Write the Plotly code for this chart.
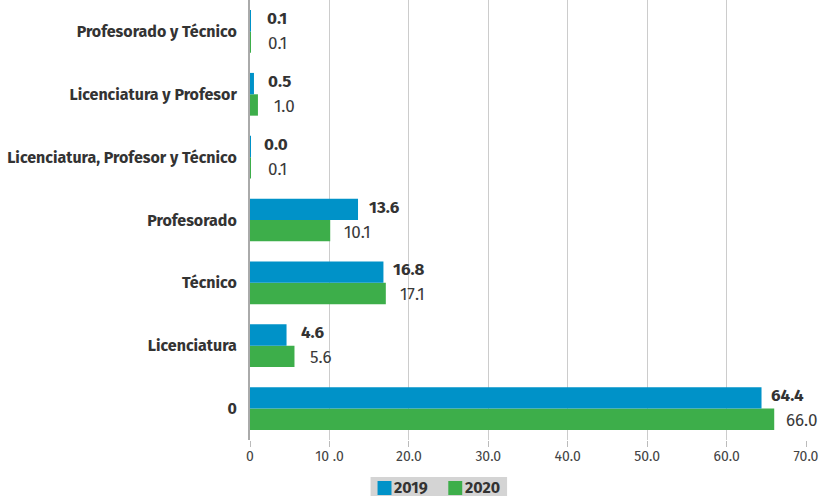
import plotly.graph_objects as go

categories = ["0", "Licenciatura", "Técnico", "Profesorado",
              "Licenciatura, Profesor y Técnico", "Licenciatura y Profesor",
              "Profesorado y Técnico"]
values_2019 = [64.4, 4.6, 16.8, 13.6, 0.04, 0.5, 0.1]
values_2020 = [66.0, 5.6, 17.1, 10.1, 0.1, 1.0, 0.1]
series_names = ["2019", "2020"]
tick_values = [0, 10, 20, 30, 40, 50, 60, 70]
tick_labels = ["0", "10 .0", "20.0", "30.0", "40.0", "50.0", "60.0", "70.0"]

BLUE = "#0092C8"
GREEN = "#3DAE4A"
FONT = "Fira Sans, Noto Sans, Open Sans, sans-serif"

L, R, T, B = 250, 11, 0, 56
W, H = 819, 496
PW, PH = W - L - R, H - T - B


def px_to_paper(px, py):
    return (px - L) / PW, (H - B - py) / PH


fig = go.Figure()
fig.add_trace(go.Bar(y=categories, x=values_2020, orientation="h", name=series_names[1],
                     marker=dict(color=GREEN, line=dict(width=0)), showlegend=False))
fig.add_trace(go.Bar(y=categories, x=values_2019, orientation="h", name=series_names[0],
                     marker=dict(color=BLUE, line=dict(width=0)), showlegend=False))

annotations = []
for c, v in zip(categories, values_2019):
    annotations.append(dict(x=v, y=c, xref="x", yref="y", text=f"<b>{v:.1f}</b>",
                            showarrow=False, xanchor="center", yanchor="middle",
                            xshift=26, yshift=13,
                            font=dict(family=FONT, size=17, color="#333333")))
for c, v in zip(categories, values_2020):
    annotations.append(dict(x=v, y=c, xref="x", yref="y", text=f"{v:.1f}",
                            showarrow=False, xanchor="center", yanchor="middle",
                            xshift=27, yshift=-12,
                            font=dict(family=FONT, size=17, color="#3a3a3a")))

# custom legend (box, swatches, labels) below the axis
shapes = []
bx0, by0 = px_to_paper(371, 477)
bx1, by1 = px_to_paper(508, 498)
shapes.append(dict(type="rect", xref="paper", yref="paper", x0=bx0, x1=bx1, y0=by1, y1=by0,
                   fillcolor="#D4D4D4", line=dict(width=0), layer="below"))
for name, color, sx in [(series_names[0], BLUE, 378), (series_names[1], GREEN, 449)]:
    x0, y0 = px_to_paper(sx, 481)
    x1, y1 = px_to_paper(sx + 14, 495)
    shapes.append(dict(type="rect", xref="paper", yref="paper", x0=x0, x1=x1, y0=y1, y1=y0,
                       fillcolor=color, line=dict(width=0)))
    tx, ty = px_to_paper(sx + 15, 487.5)
    annotations.append(dict(x=tx, y=ty, xref="paper", yref="paper", text=f"<b>{name}</b>",
                            showarrow=False, xanchor="left", yanchor="middle",
                            font=dict(family=FONT, size=16, color="#333333")))

fig.update_layout(
    width=W, height=H,
    margin=dict(l=L, r=R, t=T, b=B),
    paper_bgcolor="white", plot_bgcolor="white",
    barmode="group", bargap=0.32, bargroupgap=0,
    annotations=annotations, shapes=shapes,
    font=dict(family=FONT, color="#333333"),
    showlegend=False,
)
fig.update_xaxes(range=[0, 70], tickvals=tick_values, ticktext=tick_labels,
                 showgrid=True, gridcolor="#CCCCCC", gridwidth=1,
                 zeroline=False, ticks="outside", ticklen=6, tickcolor="#BBBBBB",
                 tickfont=dict(family=FONT, size=14, color="#444444"),
                 ticklabeloverflow="allow", ticklabelstandoff=-3,
                 showline=False)
fig.update_yaxes(tickfont=dict(family=FONT, size=16, color="#333333", weight="bold"),
                 ticklabelstandoff=8, showline=True, linecolor="#AAAAAA",
                 linewidth=2, ticks="")

fig.write_html("out.html", config={"displayModeBar": False},
               post_script="document.body.style.margin='0';")
